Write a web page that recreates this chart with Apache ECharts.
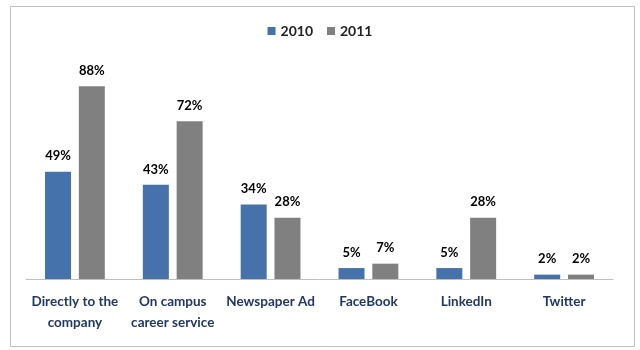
<!DOCTYPE html>
<html>
<head>
<meta charset="utf-8">
<script src="https://cdn.jsdelivr.net/npm/echarts@6/dist/echarts.min.js"></script>
<style>
  html, body { margin: 0; padding: 0; background: #fff; }
  #chart { width: 640px; height: 350px; }
</style>
</head>
<body>
<div id="chart"></div>
<script>
var categories = ['Directly to the\ncompany', 'On campus\ncareer service', 'Newspaper Ad', 'FaceBook', 'LinkedIn', 'Twitter'];
var values2010 = [49, 43, 34, 5, 5, 2];
var values2011 = [88, 72, 28, 7, 28, 2];

var myChart = echarts.init(document.getElementById('chart'));

var labelStyle = {
    show: true,
    position: 'top',
    formatter: '{c}%',
    color: '#000',
    fontWeight: 'bold',
    fontSize: 13,
    fontFamily: 'Lato',
    distance: 9
};

var option = {
    animation: false,
    backgroundColor: '#fff',
    graphic: [{
        type: 'rect',
        left: 8,
        top: 4,
        shape: { width: 624, height: 340 },
        style: { fill: 'none', stroke: '#bfbfbf', lineWidth: 1 },
        z: -1
    }],
    legend: {
        top: 19,
        left: 'center',
        itemWidth: 8,
        itemHeight: 8,
        itemGap: 14,
        icon: 'rect',
        textStyle: {
            color: '#222',
            fontSize: 14,
            fontWeight: 'bold',
            fontFamily: 'Lato'
        },
        data: ['2010', '2011']
    },
    grid: {
        left: 26,
        right: 27,
        top: 60,
        bottom: 71,
        containLabel: false
    },
    xAxis: {
        type: 'category',
        data: categories,
        axisLine: { lineStyle: { color: '#bfbfbf', width: 1 } },
        axisTick: { show: false },
        axisLabel: {
            color: '#1f3864',
            fontWeight: 'bold',
            fontSize: 13.5,
            fontFamily: 'Lato',
            lineHeight: 21,
            margin: 12,
            interval: 0
        }
    },
    yAxis: {
        type: 'value',
        min: 0,
        max: 100,
        show: false
    },
    series: [
        {
            name: '2010',
            type: 'bar',
            data: values2010,
            barWidth: 26,
            barGap: '30%',
            itemStyle: { color: '#4672ab' },
            label: labelStyle
        },
        {
            name: '2011',
            type: 'bar',
            data: values2011,
            barWidth: 26,
            itemStyle: { color: '#808080' },
            label: labelStyle
        }
    ]
};

myChart.setOption(option);
</script>
</body>
</html>
